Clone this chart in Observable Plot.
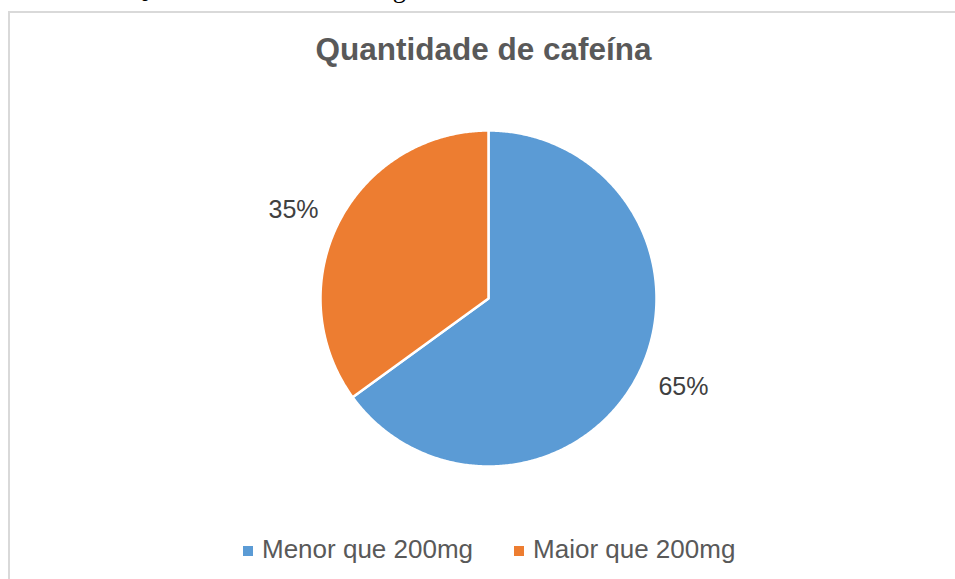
<!DOCTYPE html>
<html><head><meta charset="utf-8">
<script src="https://cdn.jsdelivr.net/npm/d3@7"></script>
<script src="https://cdn.jsdelivr.net/npm/@observablehq/plot@0.6"></script>
<style>
body{margin:0;background:#fff;}
#wrap{position:relative;width:955px;height:579px;overflow:hidden;background:#fff;}
#caption{position:absolute;left:8px;top:-27px;font-family:"Liberation Serif","Times New Roman",serif;font-size:26.5px;color:#000;white-space:nowrap;line-height:30px;}
#frame{position:absolute;left:8px;top:11px;width:1200px;height:800px;border:1px solid #d9d9d9;border-width:2px 0 0 2px;box-sizing:border-box;}
#title{position:absolute;left:0;width:967px;top:31px;text-align:center;font-family:"Liberation Sans",Arial,sans-serif;font-weight:bold;font-size:31.5px;color:#595959;line-height:36px;}
#legend{position:absolute;left:243px;top:534px;font-family:"Liberation Sans",Arial,sans-serif;font-size:26px;color:#595959;white-space:nowrap;line-height:30px;}
#legend span.sw{display:inline-block;width:10px;height:10px;margin-right:9px;vertical-align:2px;}
#legend span.item{margin-right:41px;}
#chart{position:absolute;left:0;top:0;}
</style></head>
<body><div id="wrap">
<div id="frame"></div>
<div id="caption"><b>Gráfico 2</b>: Quantidade de cafeína ingerida diariamente.</div>
<div id="title">Quantidade de cafeína</div>
<div id="chart"></div>
<div id="legend"></div>
</div>
<script>
const categories = ["Menor que 200mg", "Maior que 200mg"];
const values = [65, 35];
const labels = ["65%", "35%"];
const colors = ["#5B9BD5", "#ED7D31"];

const pie = d3.pie().sort(null).value(d => d.value)(categories.map((c, i) => ({name: c, value: values[i], label: labels[i], color: colors[i]})));

const slices = pie.map(p => {
  const pts = [{x: 0, y: 0}];
  const n = Math.max(2, Math.ceil((p.endAngle - p.startAngle) / (Math.PI / 360)));
  for (let k = 0; k <= n; k++) {
    const a = p.startAngle + (p.endAngle - p.startAngle) * k / n;
    pts.push({x: Math.sin(a), y: Math.cos(a)});
  }
  return {pts, color: p.data.color};
});

const labelR = 1.275;
const labelData = pie.map(p => {
  const a = (p.startAngle + p.endAngle) / 2 - 0.044;
  return {x: labelR * Math.sin(a), y: labelR * Math.cos(a), text: p.data.label};
});

const R = 168, cx = 488, cy = 298, W = 955, H = 579;
const chart = Plot.plot({
  width: W, height: H,
  margin: 0,
  x: {domain: [-cx / R, (W - cx) / R], range: [0, W], axis: null},
  y: {domain: [-(H - cy) / R, cy / R], range: [H, 0], axis: null},
  marks: [
    ...slices.map(s => Plot.line(s.pts, {x: "x", y: "y", curve: "linear-closed", fill: s.color, stroke: "#fff", strokeWidth: 2.5, strokeLinejoin: "round"})),
    Plot.text(labelData, {x: "x", y: "y", text: "text", fontSize: 25, fill: "#404040", fontFamily: "Liberation Sans, Arial, sans-serif"})
  ],
  style: {background: "transparent", overflow: "visible"}
});
document.getElementById("chart").appendChild(chart);

const leg = document.getElementById("legend");
categories.forEach((c, i) => {
  const it = document.createElement("span");
  it.className = "item";
  const sw = document.createElement("span");
  sw.className = "sw";
  sw.style.background = colors[i];
  it.appendChild(sw);
  it.appendChild(document.createTextNode(c));
  leg.appendChild(it);
});
</script>
</body></html>
